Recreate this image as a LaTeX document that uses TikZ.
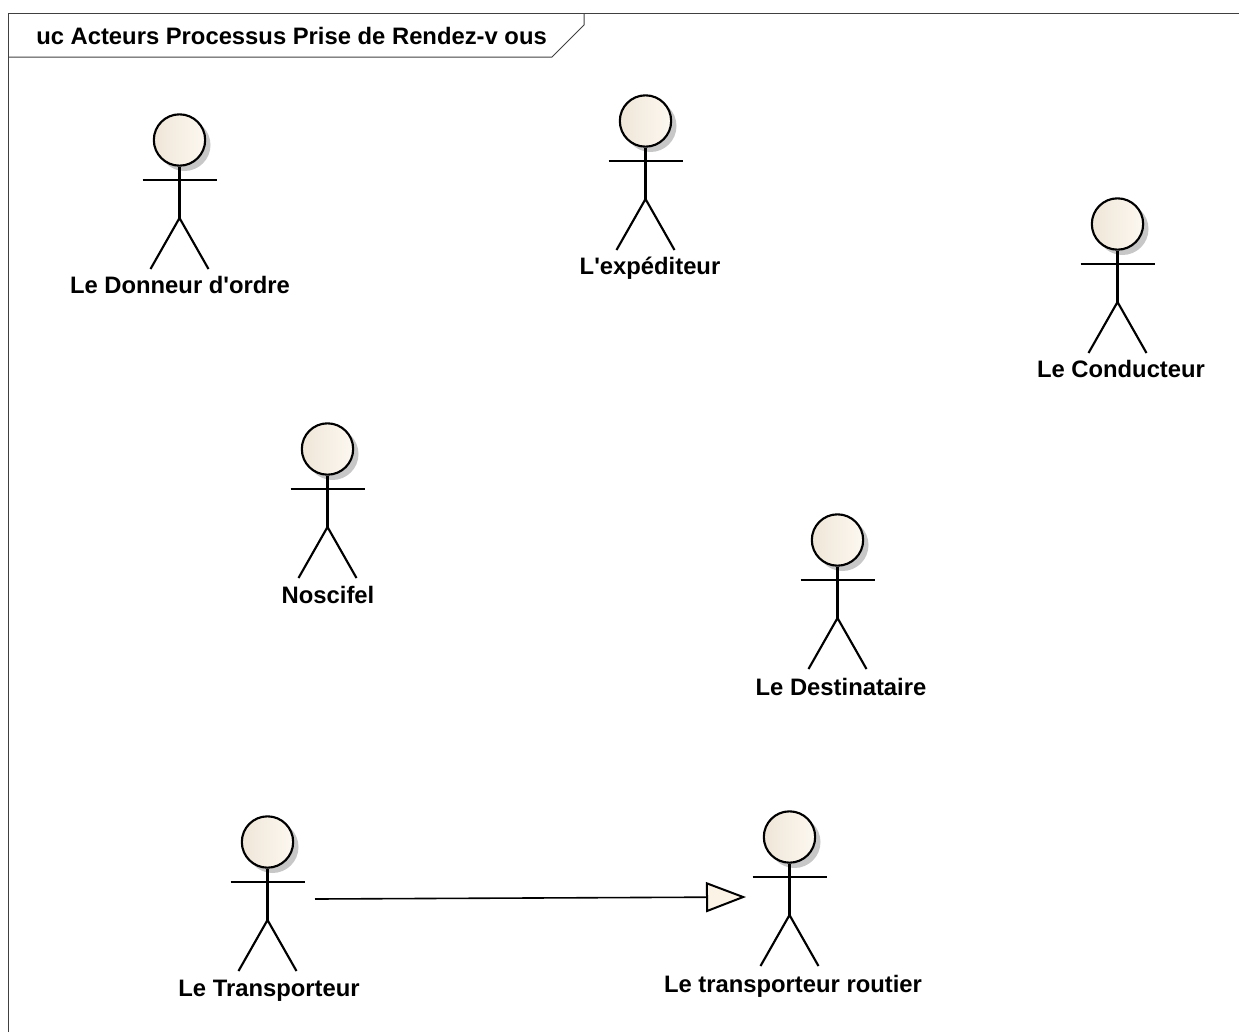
\documentclass[tikz,border=0pt]{standalone}
\usepackage{fontspec}
\setmainfont{Liberation Sans}
\usetikzlibrary{arrows.meta,shadings}
\definecolor{actorfill}{HTML}{FBF3E6}
\definecolor{actorshade}{HTML}{EFE6D8}
\definecolor{frameline}{HTML}{404040}
\begin{document}
\begin{tikzpicture}[x=0.75pt,y=-0.75pt]
            \tikzset{
            frame line/.style={draw=frameline,line width=0.75pt},
            actor line/.style={draw=black,line width=1.6pt},
            actor head/.style={circle,actor line,minimum size=38.5pt,inner sep=0,left color=actorshade,right color=actorfill!60!white},
            actor label/.style={font=\bfseries\fontsize{17.85pt}{20pt}\selectfont,inner sep=0,text height=13pt,text depth=0pt},
            actor/.pic={
                \fill[black!22] (5,5) circle (26);
                \node[actor head] (head) at (0,0) {};
                \draw[actor line] (head.south) -- (0,78);
                \draw[actor line] (-37,40) -- (37,40);
                \draw[actor line] (-29,129) -- (0,78) -- (29,129);
            }
            }
            \useasboundingbox (0,0) rectangle (1239,1032);

            \draw[frame line] (8,1032) -- (8,13) -- (1239,13);
            \draw[frame line] (8,57) -- (552,57) -- (584,25) -- (584,13);
            \node[actor label,anchor=west] (title) at (36,36) {uc Acteurs Processus Prise de Rendez-v ous};

            \pic (donneur) at (179.5,140) {actor};
            \pic (expediteur) at (645.5,121) {actor};
            \pic (conducteur) at (1117.5,224) {actor};
            \pic (noscifel) at (327.5,449) {actor};
            \pic (destinataire) at (837.5,540) {actor};
            \pic (transporteur) at (267.5,842) {actor};
            \pic (routier) at (789.5,837) {actor};

            \node[actor label] (donneur label) at (180,285) {Le Donneur d\textquotesingle ordre};
            \node[actor label] (expediteur label) at (650,266) {L\textquotesingle expéditeur};
            \node[actor label] (conducteur label) at (1121,369) {Le Conducteur};
            \node[actor label] (noscifel label) at (328,595) {Noscifel};
            \node[actor label] (destinataire label) at (841,687) {Le Destinataire};
            \node[actor label] (transporteur label) at (269,988) {Le Transporteur};
            \node[actor label] (routier label) at (793,984) {Le transporteur routier};

            \coordinate (general start) at (315,899);
            \coordinate (general end) at (746,897);
            \draw[actor line,line width=1.2pt,-{Triangle[open,length=30pt,width=22.5pt,fill=actorfill,line width=1.5pt]}] (general start) -- (general end);
\end{tikzpicture}
\end{document}
